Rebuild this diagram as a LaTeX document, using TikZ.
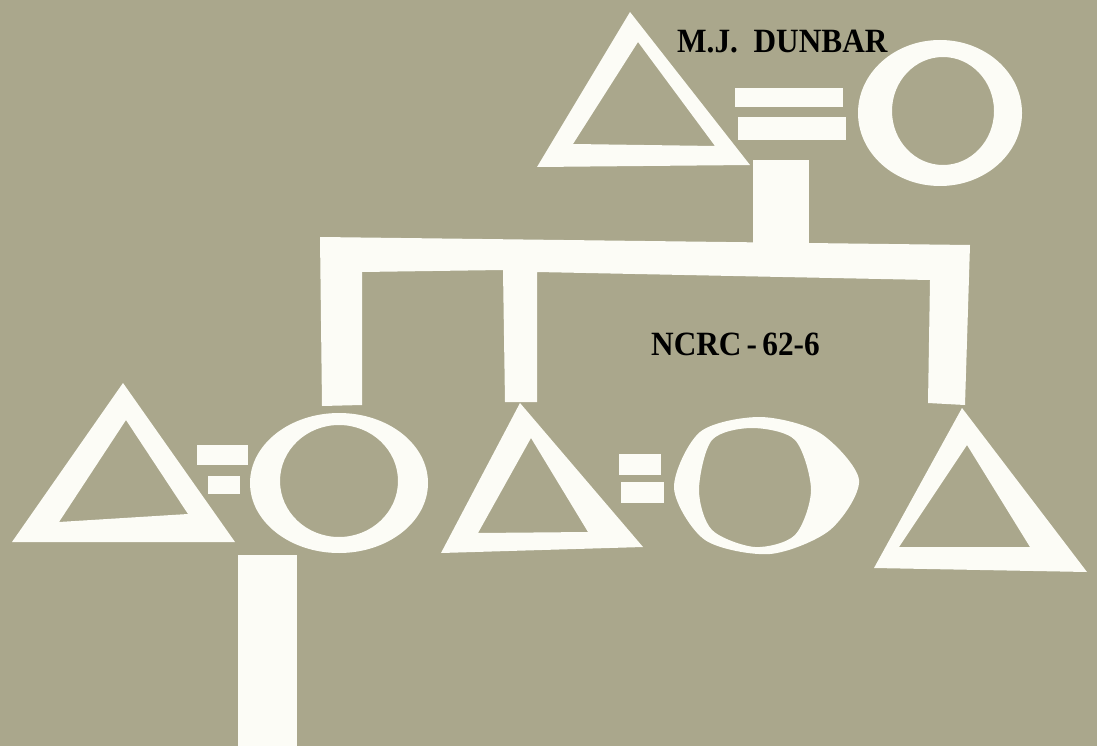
\documentclass[tikz,border=0pt]{standalone}
\usepackage{fontspec}
\setmainfont{Liberation Serif}
\definecolor{bg}{RGB}{170,167,140}
\definecolor{paper}{RGB}{252,252,246}
\tikzset{
  cut/.style={fill=paper, draw=none},
  ring/.style={fill=paper, draw=none, even odd rule},
  label/.style={text=black, inner sep=0pt, anchor=base west}
}
\begin{document}
\begin{tikzpicture}[x=1pt,y=-1pt]
\fill[bg] (0,0) rectangle (1097,746);
\useasboundingbox (0,0) rectangle (1097,746);
% top generation
\path[ring] (630,12) -- (537,167) -- (750,165) -- cycle (638,42) -- (573,144) -- (715,146) -- cycle;
\path[cut] (735,88) rectangle (843,107);
\path[cut] (738,117) rectangle (846,140);
\path[ring] (940,113) ellipse [x radius=82, y radius=73] (943,111) ellipse [x radius=51, y radius=54];
\path[cut] (753,160) rectangle (809,245);
% sibship line
\path[cut] (320,237) -- (970,245) -- (965,405) -- (928,403) -- (930,280) -- (537,272) -- (537,402) -- (505,402) -- (503,270) -- (362,272) -- (362,405) -- (322,406) -- cycle;
% bottom generation
\path[ring] (123,383) -- (12,542) -- (235,542) -- cycle (126,420) -- (59,522) -- (188,514) -- cycle;
\path[cut] (197,445) rectangle (248,465);
\path[cut] (208,476) rectangle (240,494);
\path[ring] (339,483) ellipse [x radius=89, y radius=70] (339,481) ellipse [x radius=59, y radius=56];
\path[cut] (238,555) rectangle (297,746);
\path[ring] (520,403) -- (441,553) -- (643,547) -- cycle (531,438) -- (478,533) -- (588,532) -- cycle;
\path[cut] (619,454) rectangle (661,475);
\path[cut] (621,482) rectangle (664,503);
\path[ring] plot[smooth cycle] coordinates {(674,488) (700,432) (760,417) (820,433) (859,480) (830,530) (770,554) (705,540)}
  plot[smooth cycle] coordinates {(699,490) (712,440) (752,428) (795,440) (811,490) (795,535) (755,547) (712,530)};
\path[ring] (962,408) -- (874,568) -- (1087,572) -- cycle (967,445) -- (899,547) -- (1030,547) -- cycle;
% texts
\node[label] (author) at (677,53) {\scalebox{0.92}[1]{\fontsize{34}{34}\selectfont\bfseries M.J.\ \ DUNBAR}};
\node[label] (code) at (651,355) {\scalebox{0.92}[1]{\fontsize{34}{34}\selectfont\bfseries NCRC\,-\,62-6}};
\end{tikzpicture}
\end{document}
